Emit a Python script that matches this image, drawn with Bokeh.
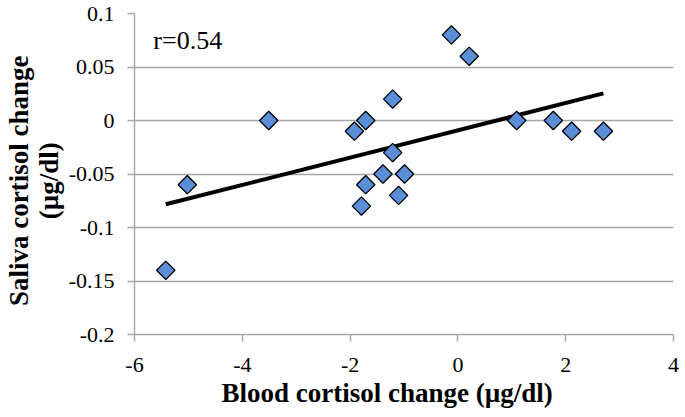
import numpy as np
from bokeh.plotting import figure
from bokeh.models import FixedTicker, Label, ColumnDataSource
from bokeh.embed import file_html
from bokeh.resources import INLINE

# Data
blood_change = [-5.42, -5.02, -3.51, -1.92, -1.71, -1.21, -1.21, -1.39, -1.71,
                -1.79, -1.10, -0.99, -0.12, 0.21, 1.09, 1.77, 2.11, 2.70]
saliva_change = [-0.14, -0.06, 0.0, -0.01, 0.0, 0.02, -0.03, -0.05, -0.06,
                 -0.08, -0.07, -0.05, 0.08, 0.06, 0.0, 0.0, -0.01, -0.01]
x_ticks = [-6, -4, -2, 0, 2, 4]
x_tick_labels = ["-6", "-4", "-2", "0", "2", "4"]
y_ticks = [-0.2, -0.15, -0.1, -0.05, 0.0, 0.05, 0.1]
y_tick_labels = ["-0.2", "-0.15", "-0.1", "-0.05", "0", "0.05", "0.1"]
r_label = "r=0.54"
x_title = "Blood cortisol change (\u00b5g/dl)"
y_title_lines = ["Saliva cortisol change", "(\u00b5g/dl)"]

FONT = "Liberation Serif"
GRID = "#a6a6a6"
NB = "\u00a0"

p = figure(width=685, height=417, output_backend="svg", toolbar_location=None,
           x_range=(-6, 4), y_range=(-0.2, 0.1),
           min_border_left=134, min_border_right=12, min_border_top=13,
           min_border_bottom=83)
p.outline_line_color = None
p.background_fill_color = "white"
p.border_fill_color = "white"

# grid
p.xgrid.grid_line_color = None
p.ygrid.grid_line_color = GRID
p.ygrid.grid_line_width = 1.5
p.ygrid.ticker = FixedTicker(ticks=y_ticks)

# axes
p.xaxis.ticker = FixedTicker(ticks=x_ticks)
p.yaxis.ticker = FixedTicker(ticks=y_ticks)
p.xaxis.major_label_overrides = {t: l for t, l in zip(x_ticks, x_tick_labels)}
p.yaxis.major_label_overrides = {t: l for t, l in zip(y_ticks, y_tick_labels)}
for ax in (p.xaxis[0], p.yaxis[0]):
    ax.axis_line_color = GRID
    ax.axis_line_width = 1.5
    ax.major_tick_line_color = GRID
    ax.major_tick_line_width = 1.5
    ax.major_tick_out = 7
    ax.major_tick_in = 0
    ax.minor_tick_line_color = None
    ax.major_label_text_font = FONT
    ax.major_label_text_font_size = "22px"
    ax.major_label_text_color = "black"
    ax.axis_label_text_font = FONT
    ax.axis_label_text_font_size = "27px"
    ax.axis_label_text_font_style = "bold"
    ax.axis_label_text_color = "black"
p.xaxis.major_label_standoff = 16
p.yaxis.major_label_standoff = 13
# trailing no-break spaces shift the centred titles as in the original
p.xaxis.axis_label = x_title + NB * 5
p.yaxis.axis_label = "\n".join(l + NB * 2 for l in y_title_lines)
p.xaxis.axis_label_standoff = 3
p.yaxis.axis_label_standoff = 2
p.yaxis.axis_label_text_line_height = 1.0

# trend line (least squares fit of the data)
xs = np.array(blood_change)
ys = np.array(saliva_change)
slope, intercept = np.polyfit(xs, ys, 1)
fit_x = [xs.min(), xs.max()]
fit_y = [slope * v + intercept for v in fit_x]
p.line(fit_x, fit_y, line_color="black", line_width=4)

src = ColumnDataSource(dict(x=blood_change, y=saliva_change))
p.scatter("x", "y", source=src, marker="square", angle=np.pi / 4, size=13,
          fill_color="#5a8fd8", line_color="black", line_width=1.3)

p.add_layout(Label(x=-5.65, y=0.0745, text=r_label, text_font=FONT,
                   text_font_size="26px", text_baseline="middle",
                   text_color="black"))

open("out.html", "w").write(file_html(p, INLINE))
